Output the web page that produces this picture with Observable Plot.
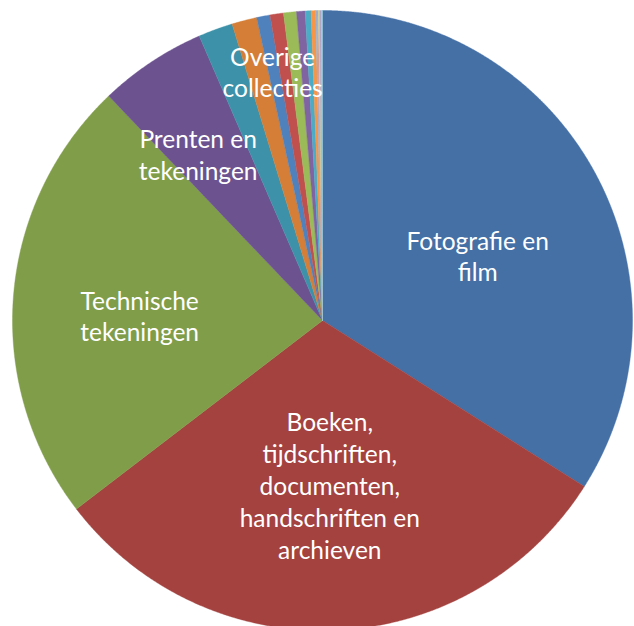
<!DOCTYPE html>
<html>
<head>
<meta charset="utf-8">
<script src="https://cdn.jsdelivr.net/npm/d3@7"></script>
<script src="https://cdn.jsdelivr.net/npm/@observablehq/plot@0.6"></script>
<style>
  html, body { margin: 0; padding: 0; background: #ffffff; }
  #chart { width: 634px; height: 626px; }
</style>
</head>
<body>
<div id="chart"></div>
<script>
// ---- Data ----
const categories = [
  "Fotografie en film",
  "Boeken, tijdschriften, documenten, handschriften en archieven",
  "Technische tekeningen",
  "Prenten en tekeningen",
  "Overige collectie 1", "Overige collectie 2", "Overige collectie 3",
  "Overige collectie 4", "Overige collectie 5", "Overige collectie 6",
  "Overige collectie 7", "Overige collectie 8", "Overige collectie 9",
  "Overige collectie 10", "Overige collectie 11", "Overige collectie 12",
  "Overige collectie 13"
];
const values = [34.0, 30.6, 23.3, 5.6, 1.8, 1.3, 0.7, 0.7, 0.67, 0.45, 0.3, 0.24, 0.07, 0.07, 0.07, 0.07, 0.07];
const colors = [
  "#4470A6", "#A3423F", "#809D4A", "#6C5390", "#3D92A9", "#D47E37",
  "#4F81BD", "#C0504D", "#9BBB59", "#8064A2", "#4BACC6", "#F79646",
  "#95B3D7", "#D99694", "#C3D69B", "#B3A2C7", "#93CDDD"
];
const labelTexts = [
  "Fotografie en\nfilm",
  "Boeken,\ntijdschriften,\ndocumenten,\nhandschriften en\narchieven",
  "Technische\ntekeningen",
  "Prenten en\ntekeningen"
];
const groupLabel = "Overige\ncollecties";
const groupStart = 4; // index of first small slice grouped under the label

// ---- Layout (label placement, like Excel's best fit) ----
const labelLayout = [
  {frac: 0.543, dAngle: 0.105},
  {frac: 0.53, dAngle: 0},
  {frac: 0.59, dAngle: -0.05},
  {frac: 0.67, dAngle: -0.057}
];
const groupLayout = {frac: 0.82, dAngle: 0.007};

// ---- Build geometry from the data ----
const arcs = d3.pie().sort(null).value(d => d)(values);
const polyPts = [];
arcs.forEach((a, i) => {
  const n = Math.max(2, Math.ceil((a.endAngle - a.startAngle) / 0.004));
  polyPts.push({slice: i, x: 0, y: 0, color: colors[i]});
  for (let k = 0; k <= n; k++) {
    const t = a.startAngle + (a.endAngle - a.startAngle) * k / n;
    polyPts.push({slice: i, x: Math.sin(t), y: Math.cos(t), color: colors[i]});
  }
  polyPts.push({slice: i, x: 0, y: 0, color: colors[i]});
});

const labels = labelTexts.map((txt, i) => {
  const a = arcs[i];
  const mid = (a.startAngle + a.endAngle) / 2 + labelLayout[i].dAngle;
  const r = labelLayout[i].frac;
  return {text: txt, x: Math.sin(mid) * r, y: Math.cos(mid) * r};
});
{
  const s = arcs[groupStart].startAngle, e = arcs[arcs.length - 1].endAngle;
  const mid = (s + e) / 2 + groupLayout.dAngle;
  labels.push({text: groupLabel, x: Math.sin(mid) * groupLayout.frac, y: Math.cos(mid) * groupLayout.frac});
}

const chart = Plot.plot({
  width: 634,
  height: 626,
  margin: 0,
  x: {domain: [-1, 1], range: [12, 632], axis: null},
  y: {domain: [-1, 1], range: [630, 10], axis: null},
  style: {background: "#ffffff"},
  marks: [
    Plot.line(polyPts, {
      x: "x", y: "y", z: "slice",
      fill: "color", stroke: "color", strokeWidth: 0.4,
      curve: "linear"
    }),
    Plot.text(labels, {
      x: "x", y: "y", text: "text",
      fill: "white", fontSize: 24.5, fontFamily: "Lato",
      lineHeight: 1.3, lineAnchor: "middle", textAnchor: "middle"
    })
  ]
});
document.getElementById("chart").appendChild(chart);
</script>
</body>
</html>
